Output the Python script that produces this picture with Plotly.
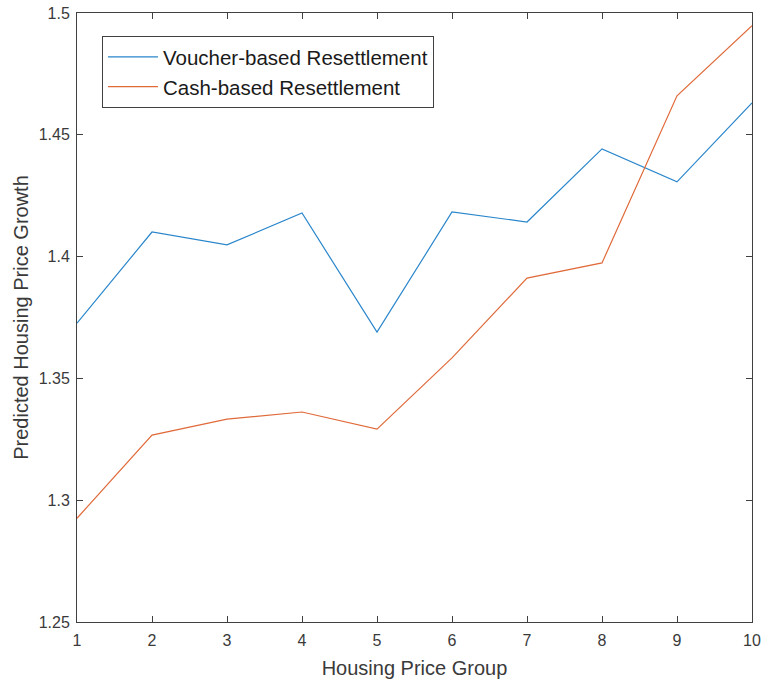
import plotly.graph_objects as go

# Housing price groups (x) and predicted growth per resettlement scheme
groups = [1, 2, 3, 4, 5, 6, 7, 8, 9, 10]
voucher = [1.3727, 1.4101, 1.4048, 1.4179, 1.3690, 1.4183, 1.4142, 1.4442, 1.4307, 1.4631]
cash = [1.2926, 1.3267, 1.3333, 1.3362, 1.3292, 1.3584, 1.3912, 1.3974, 1.4660, 1.4948]

y_tickvals = [1.25, 1.30, 1.35, 1.40, 1.45, 1.50]
y_ticktext = ["1.25", "1.3", "1.35", "1.4", "1.45", "1.5"]

axis_color = "#404040"
text_color = "#3a3a3a"
font_family = "Liberation Sans, Arial, sans-serif"

fig = go.Figure()
fig.add_trace(go.Scatter(x=groups, y=voucher, mode="lines",
                         name="Voucher-based Resettlement",
                         line=dict(color="#2a86cb", width=1.2)))
fig.add_trace(go.Scatter(x=groups, y=cash, mode="lines",
                         name="Cash-based Resettlement",
                         line=dict(color="#e06a3a", width=1.2)))

common_axis = dict(showline=True, linecolor=axis_color, linewidth=1,
                   mirror="ticks", ticks="inside", ticklen=6,
                   tickcolor=axis_color, showgrid=False, zeroline=False,
                   automargin=False,
                   tickfont=dict(family=font_family, size=16, color=text_color))

fig.update_layout(
    width=764, height=682,
    margin=dict(l=77, r=12, t=13, b=60),
    paper_bgcolor="white", plot_bgcolor="white",
    font=dict(family=font_family, color=text_color),
    xaxis=dict(range=[1, 10], tickvals=groups, ticklabelstandoff=4,
               title=dict(text="Housing Price Group", standoff=12,
                          font=dict(family=font_family, size=20, color=text_color)),
               **common_axis),
    yaxis=dict(range=[1.25, 1.5], tickvals=y_tickvals, ticktext=y_ticktext,
               ticklabelstandoff=3,
               title=dict(text="Predicted Housing Price Growth", standoff=4,
                          font=dict(family=font_family, size=20, color=text_color)),
               **common_axis),
    legend=dict(x=0.037, y=0.962, xanchor="left", yanchor="top",
                bgcolor="white", bordercolor=axis_color, borderwidth=1,
                font=dict(family=font_family, size=20.5, color="#1a1a1a"),
                itemwidth=50, tracegroupgap=0),
    showlegend=True,
)

fig.write_html("out.html")
